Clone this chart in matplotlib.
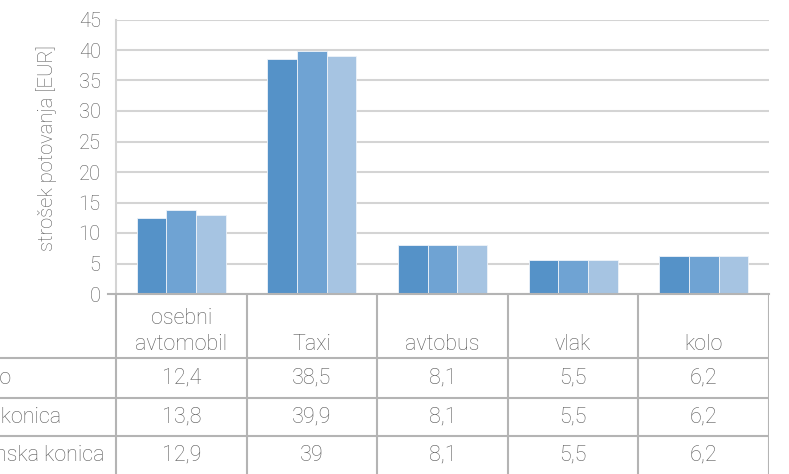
import matplotlib
matplotlib.use('Agg')
import matplotlib.pyplot as plt
import numpy as np

plt.rcParams['font.family'] = ['Roboto', 'DejaVu Sans']
plt.rcParams['font.weight'] = 'light'
plt.rcParams['axes.labelweight'] = 'light'

categories = ['osebni\navtomobil', 'Taxi', 'avtobus', 'vlak', 'kolo']
series_names = ['Normalno', 'Jutranja konica', 'Popoldanska konica']
normalno = [12.4, 38.5, 8.1, 5.5, 6.2]
jutranja = [13.8, 39.9, 8.1, 5.5, 6.2]
popoldanska = [12.9, 39, 8.1, 5.5, 6.2]
values = [normalno, jutranja, popoldanska]
colors = ['#5592c8', '#6fa3d3', '#a6c4e2']
yticks = [0, 5, 10, 15, 20, 25, 30, 35, 40, 45]

W, H = 789, 474
txt = '#595959'
grid = '#d4d4d4'
line = '#b4b4b4'

fig = plt.figure(figsize=(W/100, H/100), dpi=100)

# plot area in pixels
px_left, px_right, px_top, px_bottom = 116, 769, 19.5, 294
ax = fig.add_axes([px_left/W, (H-px_bottom)/H, (px_right-px_left)/W, (px_bottom-px_top)/H])
x = np.arange(len(categories))
bw = 0.227
for i, vals in enumerate(values):
    ax.bar(x + (i-1)*bw, vals, bw, color=colors[i], edgecolor='#eef3f9', linewidth=0.6, zorder=3)
ax.set_xlim(-0.5, len(categories)-0.5)
ax.set_ylim(0, 45)
ax.set_yticks(yticks)
ax.set_yticklabels([str(t) for t in yticks], fontsize=14.5, color=txt)
ax.set_xticks([])
ax.yaxis.grid(True, color=grid, linewidth=1.5, zorder=0)
for s in ['top', 'right', 'bottom']:
    ax.spines[s].set_visible(False)
ax.spines['left'].set_color(grid)
ax.spines['left'].set_linewidth(1.5)
ax.tick_params(axis='y', length=0, pad=11)
ax.set_ylabel('strošek potovanja [EUR]', fontsize=14.5, color=txt, fontweight='light')
ax.yaxis.set_label_coords(-0.09, 0.53)

# data table under the chart
colw = (px_right - px_left) / len(categories)
tax = fig.add_axes([0, 0, px_right/W, (H-px_bottom+0.5)/H])
tax.set_xlim(-0.5 - px_left/colw, len(categories)-0.5)
tax.set_ylim(H, px_bottom - 0.5)
tax.axis('off')
row_edges = [358, 398, 436, 474]
x0 = tax.get_xlim()[0]
tax.plot([-0.5 - 8/colw, len(categories)-0.5], [px_bottom, px_bottom], color=line, lw=1.5, clip_on=False)
for y in row_edges[:-1]:
    tax.plot([x0, len(categories)-0.5], [y, y], color=line, lw=1.5)
for k in range(len(categories)+1):
    tax.plot([k-0.5, k-0.5], [px_bottom, H], color=line, lw=1.5)
for k, c in enumerate(categories):
    tax.text(k, 355, c, ha='center', va='bottom', fontsize=15.5, color=txt, linespacing=1.3)
for r, (name, vals) in enumerate(zip(series_names, values)):
    yc = (row_edges[r] + row_edges[r+1]) / 2
    tax.text(x0 - 81/colw, yc, name, ha='left', va='center', fontsize=15.5, color=txt)
    for k, v in enumerate(vals):
        tax.text(k, yc, f'{v:g}'.replace('.', ','), ha='center', va='center', fontsize=15.5, color=txt)

fig.savefig('out.png', dpi=100)
